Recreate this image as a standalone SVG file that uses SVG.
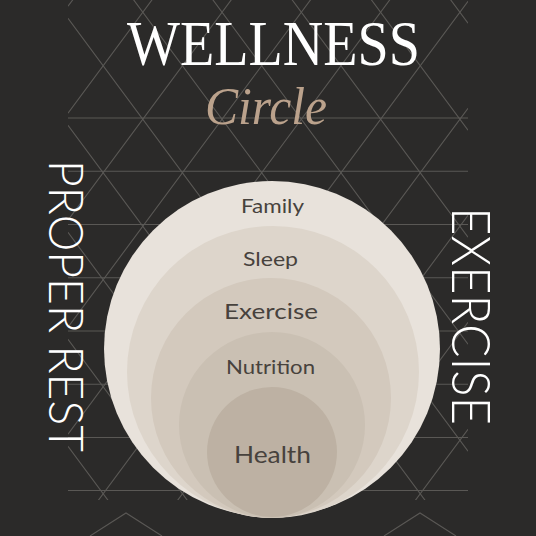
<svg xmlns="http://www.w3.org/2000/svg" width="536" height="536" viewBox="0 0 536 536">
  <defs>
    <clipPath id="bgclip"><rect x="68" y="0" width="400" height="500"/></clipPath>
    <style>
      .grid { stroke: #5a5855; stroke-width: 1.1; fill: none; }
      .label { font-family: "Lato", "Noto Sans", sans-serif; fill: #47423d; text-anchor: middle; }
      .side { font-family: "Lato", "Open Sans", sans-serif; font-weight: 300; fill: #ffffff; }
    </style>
  </defs>
  <rect x="0" y="0" width="536" height="536" fill="#2b2a29"/>
  <g id="background-pattern" class="grid">
    <g clip-path="url(#bgclip)">
      <path d="M68,-516.75L468,23.25M68,-409.75L468,130.25M68,-302.75L468,237.25M68,-195.75L468,344.25M68,-88.75L468,451.25M68,18.25L468,558.25M68,125.25L468,665.25M68,232.25L468,772.25M68,339.25L468,879.25M68,446.25L468,986.25"/>
      <path d="M68,6.25L468,-533.75M68,113.25L468,-426.75M68,220.25L468,-319.75M68,327.25L468,-212.75M68,434.25L468,-105.75M68,541.25L468,1.25M68,648.25L468,108.25M68,755.25L468,215.25M68,862.25L468,322.25M68,969.25L468,429.25"/>
    </g>
    <path d="M68,118H468M68,171.3H468M68,224.5H468M68,277.8H468M68,331H468M68,384.3H468M68,437.5H468M68,490.5H468"/>
    <path d="M90,536L126,513L162,536M384,536L420,513L456,536"/>
  </g>
  <g id="title">
    <text x="127" y="65" font-family="'Liberation Serif', serif" font-size="64" fill="#ffffff" textLength="293" lengthAdjust="spacingAndGlyphs">WELLNESS</text>
    <text x="205" y="124" font-family="'Liberation Serif', serif" font-style="italic" font-size="52" fill="#bba28c" textLength="122" lengthAdjust="spacingAndGlyphs">Circle</text>
  </g>
  <g id="circles">
    <g id="node-family">
      <circle cx="272" cy="349" r="168" fill="#e8e2db"/>
    </g>
    <g id="node-sleep">
      <circle cx="273" cy="372" r="146" fill="#ddd5cb"/>
    </g>
    <g id="node-exercise">
      <circle cx="271" cy="398" r="120" fill="#d3c9bd"/>
    </g>
    <g id="node-nutrition">
      <circle cx="272" cy="425" r="93" fill="#cac0b3"/>
    </g>
    <g id="node-health">
      <circle cx="272" cy="452" r="65" fill="#bdb1a3"/>
    </g>
    <text class="label" x="272.5" y="213" font-size="19" textLength="63" lengthAdjust="spacingAndGlyphs">Family</text>
    <text class="label" x="270.5" y="266" font-size="20" textLength="55" lengthAdjust="spacingAndGlyphs">Sleep</text>
    <text class="label" x="271" y="318.5" font-size="21" textLength="94" lengthAdjust="spacingAndGlyphs">Exercise</text>
    <text class="label" x="270.5" y="373.5" font-size="20" textLength="89" lengthAdjust="spacingAndGlyphs">Nutrition</text>
    <text class="label" x="272.5" y="463" font-size="23" textLength="77" lengthAdjust="spacingAndGlyphs">Health</text>
  </g>
  <g id="side-left">
    <text class="side" transform="translate(49,160) rotate(90)" font-size="47" textLength="292" lengthAdjust="spacingAndGlyphs">PROPER REST</text>
  </g>
  <g id="side-right">
    <text class="side" transform="translate(452,207) rotate(90)" font-size="53" textLength="218" lengthAdjust="spacingAndGlyphs">EXERCISE</text>
  </g>
  <g id="connectors"></g>
</svg>
